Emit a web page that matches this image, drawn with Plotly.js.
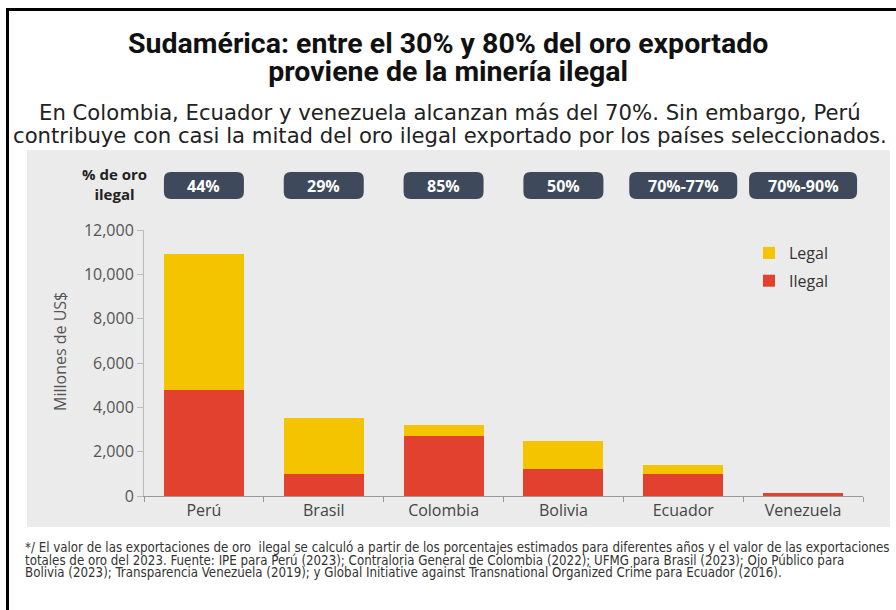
<!DOCTYPE html>
<html>
<head>
<meta charset="utf-8">
<script src="https://cdn.plot.ly/plotly-3.0.1.min.js"></script>
<style>html,body{margin:0;padding:0;background:#fff;overflow:hidden;}#chart{width:896px;height:610px;}</style>
</head>
<body>
<div id="chart"></div>
<script>
// ---- Data ----
const categories = ['Perú', 'Brasil', 'Colombia', 'Bolivia', 'Ecuador', 'Venezuela'];
const ilegalValues = [4800, 1000, 2720, 1240, 1000, 120];
const legalValues = [6100, 2500, 480, 1240, 390, 30];
const pctLabels = ['44%', '29%', '85%', '50%', '70%-77%', '70%-90%'];
const yTickVals = [0, 2000, 4000, 6000, 8000, 10000, 12000];
const yTickText = ['0', '2,000', '4,000', '6,000', '8,000', '10,000', '12,000'];

// ---- Geometry helpers (pixel -> paper) ----
const W = 896, H = 610;
const PL = 144, PR = 863, PT = 230, PB = 496;
const px = v => (v - PL) / (PR - PL);
const py = v => (PB - v) / (PB - PT);

const RED = '#E2412F', YEL = '#F5C400', GRAY = '#EBEBEB', PILL = '#3E4A5C';
const FONT = '"Open Sans", Lato, sans-serif';
const TFONT = 'Roboto, "Open Sans", sans-serif';
const SUBFONT = '"DejaVu Sans", "Open Sans", sans-serif';
const NARROW = '"DejaVu Sans Condensed", "Liberation Sans Narrow", sans-serif';

const traces = [
  {type: 'bar', name: 'Ilegal', legendgroup: 'a', legendrank: 2, x: categories, y: ilegalValues, marker: {color: RED}},
  {type: 'bar', name: 'Legal', legendgroup: 'b', legendrank: 1, x: categories, y: legalValues, marker: {color: YEL}}
];

function pill(x0, x1, y0, y1, rx, ry) {
  return `M${x0+rx},${y1} L${x1-rx},${y1} Q${x1},${y1} ${x1},${y1-ry} L${x1},${y0+ry} Q${x1},${y0} ${x1-rx},${y0} ` +
         `L${x0+rx},${y0} Q${x0},${y0} ${x0},${y0+ry} L${x0},${y1-ry} Q${x0},${y1} ${x0+rx},${y1} Z`;
}

const unitPx = (PR - PL) / categories.length;
const shapes = [
  {type: 'rect', xref: 'paper', yref: 'paper', x0: px(27), x1: px(890), y0: py(527), y1: py(150),
   fillcolor: GRAY, line: {width: 0}, layer: 'below'},
  // frame: top and left edges
  {type: 'line', xref: 'paper', yref: 'paper', x0: px(6), x1: px(900), y0: py(9.5), y1: py(9.5),
   line: {width: 3, color: '#000'}, layer: 'above'},
  {type: 'line', xref: 'paper', yref: 'paper', x0: px(7.5), x1: px(7.5), y0: py(8), y1: py(615),
   line: {width: 3, color: '#000'}, layer: 'above'}
];
const annotations = [];
pctLabels.forEach((lab, i) => {
  const wPx = lab.length > 4 ? 108 : 80;
  const hw = wPx / 2 / unitPx;
  const rx = 7 / unitPx, ry = 7 / (PB - PT);
  shapes.push({type: 'path', xref: 'x', yref: 'paper', path: pill(i - hw, i + hw, py(199), py(172), rx, ry),
    fillcolor: PILL, line: {width: 0}, layer: 'above'});
  annotations.push({xref: 'x', yref: 'paper', x: i, y: py(186), text: '<b>' + lab + '</b>', showarrow: false,
    font: {family: FONT, size: 16, color: '#fff'}, xanchor: 'center', yanchor: 'middle'});
});
annotations.push({xref: 'paper', yref: 'paper', x: px(114), y: py(184), text: '<b>% de oro<br>ilegal</b>', showarrow: false,
  font: {family: FONT, size: 15, color: '#222'}, xanchor: 'center', yanchor: 'middle'});
// title: two lines, tight spacing via outer font-size (line spacing) + inner span size
annotations.push({xref: 'paper', yref: 'paper', x: px(448), y: py(58), align: 'center',
  text: '<b><span style="font-size:28.5px">Sudamérica: entre el 30% y 80% del oro exportado</span></b><br>' +
        '<b><span style="font-size:28.5px">proviene de la minería ilegal</span></b>',
  showarrow: false, font: {family: TFONT, size: 21.5, color: '#111'}, xanchor: 'center', yanchor: 'middle'});
annotations.push({xref: 'paper', yref: 'paper', x: px(450), y: py(112), text: 'En Colombia, Ecuador y venezuela alcanzan más del 70%. Sin embargo, Perú',
  showarrow: false, font: {family: SUBFONT, size: 21.2, color: '#222'}, xanchor: 'center', yanchor: 'middle'});
annotations.push({xref: 'paper', yref: 'paper', x: px(450), y: py(135), text: 'contribuye con casi la mitad del oro ilegal exportado por los países seleccionados.',
  showarrow: false, font: {family: SUBFONT, size: 21.2, color: '#222'}, xanchor: 'center', yanchor: 'middle'});
annotations.push({xref: 'paper', yref: 'paper', x: px(60), y: py(352), text: 'Millones de US$', textangle: -90,
  showarrow: false, font: {family: FONT, size: 16, color: '#555'}, xanchor: 'center', yanchor: 'middle'});
const foot = [
  '*/ El valor de las exportaciones de oro  ilegal se calculó a partir de los porcentajes estimados para diferentes años y el valor de las exportaciones',
  'totales de oro del 2023. Fuente: IPE para Perú (2023); Contraloria General de Colombia (2022); UFMG para Brasil (2023); Ojo Público para',
  'Bolivia (2023); Transparencia Venezuela (2019); y Global Initiative against Transnational Organized Crime para Ecuador (2016).'
];
annotations.push({xref: 'paper', yref: 'paper', x: px(23), y: py(538), align: 'left',
  text: foot.map(s => '<span style="font-size:13.2px">' + s + '</span>').join('<br>'),
  showarrow: false, font: {family: NARROW, size: 9.8, color: '#333'}, xanchor: 'left', yanchor: 'top'});

const layout = {
  width: W, height: H,
  margin: {l: PL, r: W - PR, t: PT, b: H - PB, pad: 0},
  paper_bgcolor: '#fff', plot_bgcolor: GRAY,
  barmode: 'stack', bargap: 0.333,
  showlegend: true,
  legend: {x: px(749), y: py(236), xanchor: 'left', yanchor: 'top', bgcolor: 'rgba(0,0,0,0)',
    font: {family: FONT, size: 16, color: '#333'}, traceorder: 'grouped', tracegroupgap: 4, itemwidth: 30},
  xaxis: {type: 'category', showgrid: false, showline: true, linecolor: '#999', linewidth: 1,
    ticks: 'outside', tickson: 'boundaries', ticklen: 5, tickcolor: '#999',
    tickfont: {family: FONT, size: 16, color: '#444'}, fixedrange: true},
  yaxis: {range: [0, 12000], tickvals: yTickVals, ticktext: yTickText, showgrid: false, zeroline: false,
    showline: true, linecolor: '#bbb', linewidth: 1, ticks: 'outside', ticklen: 6, tickcolor: '#bbb',
    tickfont: {family: FONT, size: 16, color: '#555'}, fixedrange: true},
  shapes: shapes, annotations: annotations
};
Plotly.newPlot('chart', traces, layout, {displayModeBar: false, staticPlot: true});
</script>
</body>
</html>
